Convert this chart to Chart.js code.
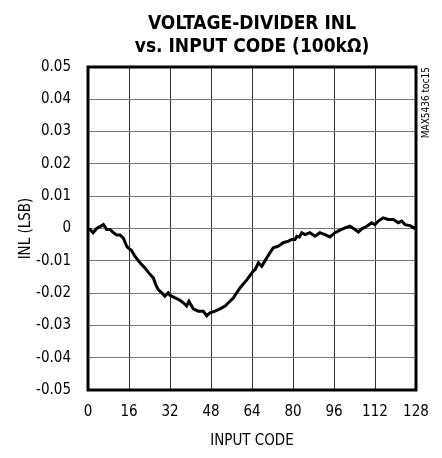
<!DOCTYPE html>
<html>
<head>
<meta charset="utf-8">
<script src="https://cdn.jsdelivr.net/npm/chart.js@4.4.0/dist/chart.umd.min.js"></script>
<style>
  html, body { margin: 0; padding: 0; background: #fff; }
  #wrap { width: 442px; height: 458px; }
</style>
</head>
<body>
<div id="wrap"><canvas id="grafica" width="442" height="458"></canvas></div>
<script>
const codigos = [0, 0.8, 2, 3.4, 4.5, 6, 7.3, 8.6, 9.9, 11.2, 12.5, 13.8, 15.1, 15.7, 17, 18.3,
  20.3, 22.2, 24.2, 25.5, 26.4, 27.4, 28.8, 30, 31.3, 32, 34, 35.9, 37.2, 38.5, 39.4, 41.1,
  43, 45, 46.3, 47.6, 49.6, 51.5, 53.5, 54.8, 56.7, 58, 59.3, 60.6, 61.9, 63.2, 64.5, 65.2,
  66.5, 67.8, 69, 71, 72.3, 74.3, 76.2, 78.2, 79.5, 80.8, 81.5, 82.5, 83.4, 84.7, 86.6, 88.6,
  90.5, 92.5, 94.4, 96.4, 98.3, 100.3, 102.2, 104.2, 105.5, 106.8, 108.8, 110.7, 112, 113.3,
  115.2, 117.2, 119.2, 121.1, 122.4, 123.7, 125.7, 127.2, 128];
const inl = [-0.0002, -0.0003, -0.0013, 0, 0.0005, 0.0012, -0.0003, -0.0003, -0.0013, -0.002,
  -0.002, -0.003, -0.0055, -0.006, -0.0068, -0.0086, -0.0106, -0.0122, -0.0142, -0.0153,
  -0.0173, -0.0189, -0.0199, -0.021, -0.0199, -0.0207, -0.0215, -0.0222, -0.023, -0.024,
  -0.0225, -0.0249, -0.0256, -0.0256, -0.027, -0.0261, -0.0256, -0.0249, -0.024, -0.023,
  -0.0215, -0.0199, -0.0184, -0.0172, -0.016, -0.0146, -0.0132, -0.0127, -0.0106, -0.0117,
  -0.0101, -0.0075, -0.006, -0.0055, -0.0044, -0.0039, -0.0034, -0.0034, -0.0024, -0.0026,
  -0.0013, -0.0019, -0.0013, -0.0024, -0.0013, -0.0019, -0.0026, -0.0013, -0.0005, 0.0002,
  0.0007, -0.0003, -0.0011, -0.0001, 0.0007, 0.0018, 0.0012, 0.0023, 0.0033, 0.0028, 0.0028,
  0.0018, 0.0023, 0.0012, 0.0009, 0.0002, -0.0002];

const ejeX = { min: 0, max: 128, paso: 16 };
const ejeY = { min: -0.05, max: 0.05, paso: 0.01 };
const titulo = ['VOLTAGE-DIVIDER INL', 'vs. INPUT CODE (100k\u03A9)'];
const marca = 'MAX5436 toc15';

const fuente = "'Liberation Sans Narrow', 'DejaVu Sans Condensed', 'Arial Narrow', sans-serif";

// marco grueso y la etiqueta vertical del lado derecho
const marco = {
  id: 'marco',
  afterDatasetsDraw(chart) {
    const { ctx, chartArea: a } = chart;
    ctx.save();
    ctx.strokeStyle = '#000';
    ctx.lineWidth = 3;
    ctx.strokeRect(a.left, a.top, a.right - a.left, a.bottom - a.top);
    ctx.translate(a.right + 10, a.top);
    ctx.rotate(-Math.PI / 2);
    ctx.font = "10px " + fuente;
    ctx.fillStyle = '#000';
    ctx.textAlign = 'right';
    ctx.textBaseline = 'middle';
    ctx.fillText(marca, 0, 0);
    ctx.restore();
  }
};

new Chart(document.getElementById('grafica'), {
  type: 'line',
  data: {
    datasets: [{
      data: codigos.map((c, i) => ({ x: c, y: inl[i] })),
      borderColor: '#000',
      borderWidth: 3,
      pointRadius: 0,
      tension: 0,
    }],
  },
  options: {
    responsive: false,
    animation: false,
    layout: { padding: { left: 13, right: 26, top: 0, bottom: 4 } },
    plugins: {
      legend: { display: false },
      tooltip: { enabled: false },
      title: {
        display: true,
        fullSize: false,
        text: titulo,
        color: '#000',
        font: { family: fuente, size: 19, weight: 'bold', lineHeight: 1.2 },
        padding: { top: 12.6, bottom: 8.8 },
      },
    },
    scales: {
      x: {
        type: 'linear',
        min: ejeX.min, max: ejeX.max,
        ticks: { stepSize: ejeX.paso, color: '#000', padding: 13, font: { family: fuente, size: 15 } },
        grid: { color: '#333', lineWidth: 1, drawTicks: false },
        border: { display: false },
        title: { display: true, text: 'INPUT CODE', color: '#000', font: { family: fuente, size: 15 }, padding: { top: 2 } },
        afterFit(s) { s.height = 64; },
      },
      y: {
        min: ejeY.min, max: ejeY.max,
        ticks: {
          stepSize: ejeY.paso, color: '#000', padding: 17, font: { family: fuente, size: 15 },
          callback: v => Math.abs(v) < 1e-9 ? '0' : v.toFixed(2),
        },
        grid: { color: '#777', lineWidth: 1, drawTicks: false },
        border: { display: false },
        title: { display: true, text: 'INL (LSB)', color: '#000', font: { family: fuente, size: 15 }, padding: { bottom: 0 } },
        afterFit(s) { s.width = 75; },
      },
    },
  },
  plugins: [marco],
});
</script>
</body>
</html>
